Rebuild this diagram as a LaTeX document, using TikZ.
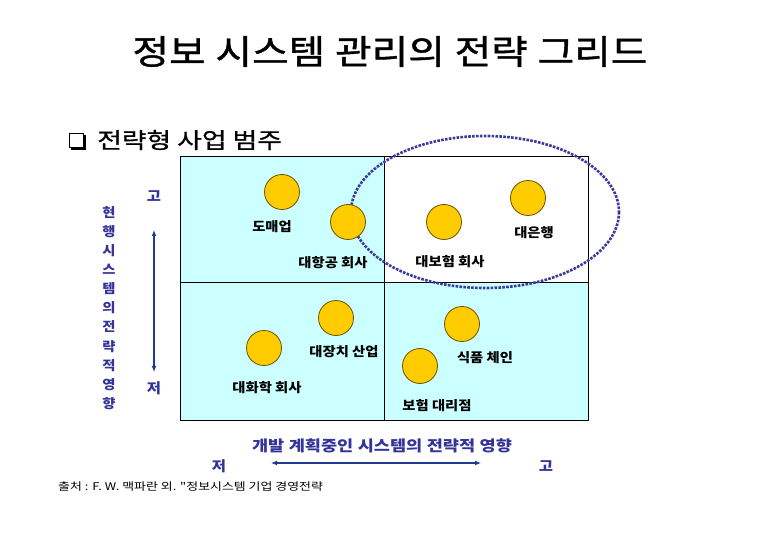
\documentclass[tikz,border=0pt]{standalone}
\usepackage{fontspec}
\setmainfont[FakeStretch=1.1]{Noto Sans CJK KR}
\newfontfamily\titlefont[FakeStretch=1.17,WordSpace=1.1]{Noto Sans CJK KR}
\newfontfamily\bigtitlefont[FakeStretch=1.17,WordSpace=1.1,FakeBold=1.2]{Noto Sans CJK KR}
\newfontfamily\widefont[FakeStretch=1.22]{Noto Sans CJK KR}
\newfontfamily\subtitlefont[FakeStretch=1.22,FakeBold=0.8]{Noto Sans CJK KR}
\usetikzlibrary{arrows.meta}
\definecolor{cyanbg}{HTML}{CCFFFF}
\definecolor{gold}{HTML}{FFCC00}
\definecolor{ballline}{HTML}{6B5000}
\definecolor{navytext}{HTML}{333399}
\definecolor{arrowblue}{HTML}{1F3A8C}
\definecolor{ellblue}{HTML}{3A3A9A}
\begin{document}
\begin{tikzpicture}[x=1pt,y=-1pt,
  quad/.style={draw=black,line width=0.9pt},
  ball/.style={circle,fill=gold,draw=ballline,line width=0.8pt,minimum size=35pt,inner sep=0pt},
  lbl/.style={font=\fontsize{13}{15}\selectfont\bfseries,inner sep=0pt},
  axtxt/.style={font=\fontsize{14}{16}\selectfont\bfseries,text=navytext,inner sep=0pt},
  axarrow/.style={draw=arrowblue,line width=2.2pt,{Latex[length=6pt,width=5pt]}-{Latex[length=6pt,width=5pt]}}
]
\useasboundingbox (0,0) rectangle (780,540);
\fill[white] (0,0) rectangle (780,540);

% title
\node[inner sep=0pt,font=\bigtitlefont\fontsize{34}{38}\selectfont] (title) at (390,51.5) {정보 시스템 관리의 전략 그리드};

% subtitle with checkbox
\fill[black] (71,135) rectangle (86,150);
\draw[black,line width=0.9pt,fill=white] (69,133) rectangle (83,147);
\node[anchor=west,inner sep=0pt,font=\subtitlefont\fontsize{22}{25}\selectfont] (sub) at (97,140) {전략형 사업 범주};

% quadrants
\fill[cyanbg] (180,156) rectangle (384,282);
\fill[white] (384,156) rectangle (588,282);
\fill[cyanbg] (180,282) rectangle (588,420);
\draw[quad] (180,156) rectangle (588,420);
\draw[quad] (384,156) -- (384,420);
\draw[quad] (180,282) -- (588,282);

% ellipse
\draw[ellblue,line width=2.6pt,dash pattern=on 2.6pt off 1.3pt] (485,212) ellipse [x radius=134, y radius=76];

% balls
\node[ball] (c1) at (282,192) {};
\node[ball] (c2) at (348,222) {};
\node[ball] (c3) at (444,222) {};
\node[ball] (c4) at (528,198) {};
\node[ball] (c5) at (336,318) {};
\node[ball] (c6) at (264,348) {};
\node[ball] (c7) at (462,324) {};
\node[ball] (c8) at (420,366) {};

% labels
\node[lbl] (l1) at (272,227) {도매업};
\node[lbl] (l2) at (333,263) {대항공 회사};
\node[lbl] (l3) at (450,262) {대보험 회사};
\node[lbl] (l4) at (534,233) {대은행};
\node[lbl] (l5) at (344,352) {대장치 산업};
\node[lbl] (l6) at (267,388) {대화학 회사};
\node[lbl] (l7) at (485,358) {식품 체인};
\node[lbl] (l8) at (437,406) {보험 대리점};

% vertical axis
\node[inner sep=0pt,align=center,text=navytext,font=\fontsize{13}{19.1}\selectfont\bfseries] (vlab) at (109,308) {현\\행\\시\\스\\템\\의\\전\\략\\적\\영\\향};
\node[axtxt] (vhi) at (154,196) {고};
\node[axtxt] (vlo) at (154,388) {저};
\coordinate (vtop) at (154,230);
\coordinate (vbot) at (154,372);
\draw[axarrow] (vtop) -- (vbot);

% horizontal axis
\node[inner sep=0pt,text=navytext,font=\titlefont\fontsize{15}{17}\selectfont\bfseries] (hlab) at (382,446) {개발 계획중인 시스템의 전략적 영향};
\node[axtxt] (hlo) at (219,466) {저};
\node[axtxt] (hhi) at (546,466) {고};
\coordinate (hl) at (271,463);
\coordinate (hr) at (481,463);
\draw[axarrow] (hl) -- (hr);

% source
\node[anchor=west,inner sep=0pt,font=\widefont\fontsize{10.6}{13}\selectfont] (src) at (58,487) {출처 : F. W. 맥파란 외. "정보시스템 기업 경영전략};
\end{tikzpicture}
\end{document}
